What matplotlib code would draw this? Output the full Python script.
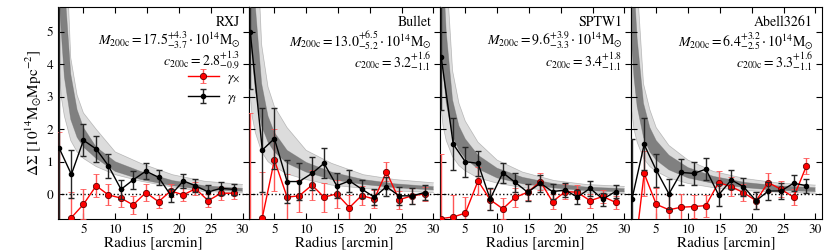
import numpy as np
import matplotlib
matplotlib.use('Agg')
import matplotlib.pyplot as plt

plt.rcParams['font.family'] = 'STIXGeneral'
plt.rcParams['mathtext.fontset'] = 'stix'

# radial bins [arcmin]
radius = [1.2, 3.1, 5.0, 7.0, 8.9, 10.9, 12.8, 14.8, 16.8, 18.7, 20.7, 22.6, 24.6, 26.6, 28.6]

names = ['RXJ', 'Bullet', 'SPTW1', 'Abell3261']
mass_txt = [r'$M_{\rm 200c} = 17.5^{+4.3}_{-3.7}\cdot10^{14}\mathrm{M}_{\odot}$',
            r'$M_{\rm 200c} = 13.0^{+6.5}_{-5.2}\cdot10^{14}\mathrm{M}_{\odot}$',
            r'$M_{\rm 200c} = 9.6^{+3.9}_{-3.3}\cdot10^{14}\mathrm{M}_{\odot}$',
            r'$M_{\rm 200c} = 6.4^{+3.2}_{-2.5}\cdot10^{14}\mathrm{M}_{\odot}$']
conc_txt = [r'$c_{\rm 200c} = 2.8^{+1.3}_{-0.9}$',
            r'$c_{\rm 200c} = 3.2^{+1.6}_{-1.1}$',
            r'$c_{\rm 200c} = 3.4^{+1.8}_{-1.1}$',
            r'$c_{\rm 200c} = 3.3^{+1.6}_{-1.1}$']

# tangential shear profiles (gamma_t)
gt_rxj = [1.41, 0.61, 1.66, 1.39, 0.88, 0.15, 0.44, 0.71, 0.52, -0.03, 0.41, 0.26, 0.07, 0.18, 0.15]
gt_rxj_err = [4.5, 0.74, 0.49, 0.40, 0.37, 0.29, 0.28, 0.25, 0.23, 0.20, 0.21, 0.20, 0.20, 0.20, 0.17]
gt_bul = [5.0, 1.36, 1.71, 0.39, 0.39, 0.64, 0.95, 0.26, 0.41, 0.16, -0.09, 0.23, -0.05, -0.05, 0.05]
gt_bul_err = [1.75, 1.28, 0.93, 0.65, 0.56, 0.51, 0.46, 0.38, 0.35, 0.29, 0.25, 0.30, 0.28, 0.24, 0.22]
gt_spt = [4.23, 1.54, 1.00, 0.95, -0.15, 0.66, 0.37, 0.06, 0.34, 0.08, 0.13, -0.09, 0.18, -0.15, 0.08]
gt_spt_err = [1.65, 0.80, 0.46, 0.39, 0.34, 0.30, 0.29, 0.26, 0.26, 0.24, 0.23, 0.22, 0.23, 0.20, 0.19]
gt_abl = [-0.14, 1.53, 0.74, 0.01, 0.67, 0.64, 0.77, -0.02, 0.44, 0.23, -0.20, 0.10, 0.10, 0.34, 0.26]
gt_abl_err = [1.85, 0.80, 0.51, 0.45, 0.40, 0.36, 0.34, 0.34, 0.29, 0.27, 0.27, 0.28, 0.24, 0.24, 0.22]

# cross shear profiles (gamma_x)
gx_rxj = [-1.5, -0.72, -0.31, 0.26, -0.02, -0.12, -0.33, 0.05, -0.23, 0.10, -0.02, 0.17, -0.20, 0.03, 0.03]
gx_rxj_err = [3.4, 0.80, 0.46, 0.36, 0.32, 0.27, 0.28, 0.25, 0.20, 0.20, 0.20, 0.20, 0.20, 0.20, 0.17]
gx_bul = [-2.0, -0.72, 1.05, -0.09, -0.05, 0.28, -0.09, 0.01, -0.41, -0.04, -0.15, 0.69, -0.17, -0.05, 0.01]
gx_bul_err = [4.5, 1.40, 0.96, 0.70, 0.50, 0.46, 0.45, 0.43, 0.40, 0.30, 0.27, 0.29, 0.28, 0.24, 0.22]
gx_spt = [-0.75, -0.70, -0.58, 0.41, -0.17, -0.45, -0.10, 0.06, 0.39, -0.23, 0.08, 0.06, -0.20, -0.07, -0.25]
gx_spt_err = [2.0, 0.67, 0.48, 0.42, 0.33, 0.32, 0.28, 0.25, 0.26, 0.24, 0.23, 0.22, 0.22, 0.20, 0.20]
gx_abl = [-2.5, 0.64, -0.31, -0.48, -0.40, -0.38, -0.35, 0.36, 0.23, 0.05, -0.20, 0.36, 0.15, -0.09, 0.87]
gx_abl_err = [1.5, 0.70, 0.50, 0.45, 0.40, 0.35, 0.34, 0.34, 0.29, 0.27, 0.27, 0.28, 0.25, 0.24, 0.25]

# NFW model bundle: outer / inner envelopes
r_model = [1, 1.5, 2, 3, 4, 5, 7, 10, 14, 19, 24, 30]
out_lo = [[4.5, 3.0, 2.4, 1.65, 1.3, 1.1, 0.85, 0.6, 0.4, 0.22, 0.08, 0.04],
          [3.5, 2.4, 1.9, 1.3, 1.0, 0.85, 0.62, 0.45, 0.28, 0.18, 0.10, 0.05],
          [3.0, 2.1, 1.65, 1.15, 0.88, 0.72, 0.5, 0.34, 0.2, 0.10, 0.04, 0.01],
          [2.8, 2.0, 1.6, 1.1, 0.85, 0.7, 0.5, 0.33, 0.2, 0.11, 0.06, 0.03]]
out_hi = [[20, 13, 9, 4.2, 3.05, 2.5, 2.0, 1.3, 0.95, 0.6, 0.4, 0.3],
          [25, 14, 9, 4.6, 3.3, 2.7, 2.05, 1.35, 0.95, 0.6, 0.45, 0.35],
          [22, 11, 7, 3.8, 2.8, 2.25, 1.6, 1.05, 0.68, 0.42, 0.3, 0.24],
          [20, 10, 6.5, 3.4, 2.6, 2.05, 1.5, 1.05, 0.7, 0.48, 0.35, 0.28]]
in_lo = [[7, 5, 3.6, 2.3, 1.75, 1.45, 1.1, 0.7, 0.45, 0.26, 0.14, 0.09],
         [6, 4.2, 3.2, 2.1, 1.6, 1.3, 0.95, 0.68, 0.45, 0.3, 0.2, 0.13],
         [5.5, 3.8, 2.8, 1.8, 1.35, 1.1, 0.78, 0.5, 0.32, 0.19, 0.11, 0.07],
         [5, 3.6, 2.7, 1.75, 1.3, 1.05, 0.75, 0.5, 0.33, 0.2, 0.12, 0.08]]
in_hi = [[13, 9, 6.5, 3.7, 2.6, 2.05, 1.45, 1.0, 0.7, 0.42, 0.26, 0.18],
         [12, 8, 5.8, 3.4, 2.4, 1.9, 1.35, 0.98, 0.68, 0.45, 0.32, 0.23],
         [11, 7, 5, 2.9, 2.1, 1.7, 1.2, 0.8, 0.52, 0.32, 0.22, 0.17],
         [10, 6.5, 4.8, 2.8, 2.05, 1.65, 1.2, 0.82, 0.55, 0.36, 0.26, 0.2]]

gt_all = [(gt_rxj, gt_rxj_err), (gt_bul, gt_bul_err), (gt_spt, gt_spt_err), (gt_abl, gt_abl_err)]
gx_all = [(gx_rxj, gx_rxj_err), (gx_bul, gx_bul_err), (gx_spt, gx_spt_err), (gx_abl, gx_abl_err)]

fig, axes = plt.subplots(1, 4, figsize=(8.3, 2.52), dpi=100, sharey=True)
fig.subplots_adjust(left=0.0699, right=0.990, bottom=0.130, top=0.971, wspace=0)

for i, ax in enumerate(axes):
    # model bundle
    ax.fill_between(r_model, out_lo[i], out_hi[i], color='0.55', alpha=0.3, lw=0, zorder=1)
    ax.fill_between(r_model, in_lo[i], in_hi[i], color='0.15', alpha=0.5, lw=0, zorder=1)
    for curve in (out_lo[i], out_hi[i], in_lo[i], in_hi[i]):
        ax.plot(r_model, curve, color='0.4', lw=0.5, alpha=0.4, zorder=1)

    ax.axhline(0, color='k', ls=':', lw=1, zorder=2)

    gx, gx_err = gx_all[i]
    gt, gt_err = gt_all[i]
    ax.errorbar(radius, gx, yerr=gx_err, color='red', ecolor='#ff5555', marker='o', ms=4.5,
                mfc='red', mec='#600000', mew=0.6, lw=1, elinewidth=1, capsize=2,
                label=r'$\gamma_{\times}$', zorder=3)
    ax.errorbar(radius, gt, yerr=gt_err, color='k', ecolor='0.15', marker='o', ms=3,
                mfc='k', mec='k', lw=1, elinewidth=1, capsize=2,
                label=r'$\gamma_t$', zorder=4)

    ax.text(0.955, 0.928, names[i], transform=ax.transAxes, ha='right', va='center', fontsize=10)
    ax.text(0.955, 0.842, mass_txt[i], transform=ax.transAxes, ha='right', va='center', fontsize=10)
    ax.text(0.955, 0.745, conc_txt[i], transform=ax.transAxes, ha='right', va='center', fontsize=10)

    ax.set_xlim(1, 31)
    ax.set_ylim(-0.77, 5.75)
    ax.set_xticks([5, 10, 15, 20, 25, 30])
    ax.set_yticks([0, 1, 2, 3, 4, 5])
    ax.tick_params(direction='in', top=True, right=True, labelsize=9.5, length=4)
    ax.set_xlabel('Radius [arcmin]', fontsize=11, labelpad=1)

axes[0].set_ylabel(r'$\Delta\Sigma$ $[10^{14}\mathrm{M}_{\odot}\mathrm{Mpc}^{-2}]$', fontsize=11, labelpad=2)
axes[0].legend(loc='upper right', bbox_to_anchor=(1.0, 0.74), frameon=False, fontsize=10,
               handlelength=2.2, handletextpad=0.6, borderpad=0.1, labelspacing=0.3)

plt.savefig('out.png', dpi=100)
